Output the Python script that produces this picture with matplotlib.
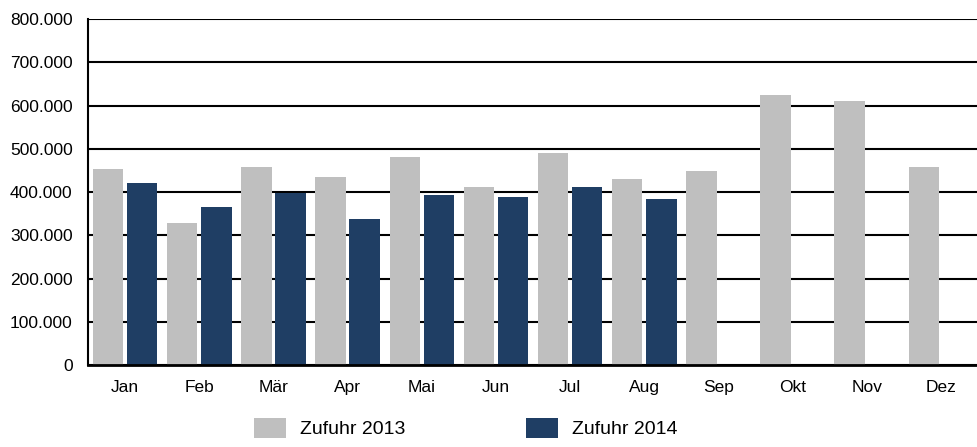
import matplotlib.pyplot as plt
import numpy as np
from matplotlib.patches import Patch
from matplotlib.ticker import FuncFormatter

plt.rcParams["font.family"] = ["Liberation Sans", "DejaVu Sans"]

# ── DATA ──────────────────────────────────────────────────────────────────────
MONTHS = ["Jan", "Feb", "Mär", "Apr", "Mai", "Jun", "Jul", "Aug", "Sep", "Okt", "Nov", "Dez"]
ZUFUHR_2013 = [453000, 328000, 458000, 435000, 481000, 412000, 490000, 430000, 449000, 624000, 610000, 458000]
ZUFUHR_2014 = [421000, 365000, 398000, 338000, 393000, 388000, 412000, 384000]
SERIES_LABELS = ["Zufuhr 2013", "Zufuhr 2014"]
Y_TICKS = [0, 100000, 200000, 300000, 400000, 500000, 600000, 700000, 800000]

GREY = "#BFBFBF"
NAVY = "#1F3E64"
# ─────────────────────────────────────────────────────────────────────────────


def thousands(v, _pos):
    return f"{int(v):,}".replace(",", ".")


fig = plt.figure(figsize=(9.78, 4.47), dpi=100)
ax = fig.add_axes([0.09, 0.1834, 0.91, 0.7741])

x = np.arange(len(MONTHS))
ax.bar(x - 0.23, ZUFUHR_2013, width=0.41, color=GREY, zorder=2)
x14 = np.arange(len(ZUFUHR_2014))
ax.bar(x14 + 0.23, ZUFUHR_2014, width=0.41, color=NAVY, zorder=2)

ax.set_xlim(-0.5, len(MONTHS) - 0.5)
ax.set_ylim(0, 800000)
ax.set_yticks(Y_TICKS)
ax.yaxis.set_major_formatter(FuncFormatter(thousands))
ax.set_xticks(x)
ax.set_xticklabels(MONTHS)
ax.tick_params(axis="y", length=0, pad=11, labelsize=12.5)
ax.tick_params(axis="x", length=0, pad=11, labelsize=12.5)

ax.grid(axis="y", color="black", linewidth=1.5, zorder=1)
ax.set_axisbelow(True)
for side in ("top", "right"):
    ax.spines[side].set_visible(False)
ax.spines["left"].set_linewidth(1.5)
ax.spines["bottom"].set_linewidth(2)
ax.spines["bottom"].set_zorder(3)

handles = [Patch(facecolor=GREY), Patch(facecolor=NAVY)]
fig.legend(
    handles,
    SERIES_LABELS,
    loc="center",
    bbox_to_anchor=(466 / 978, 0.0425),
    ncol=2,
    frameon=False,
    fontsize=14,
    handlelength=1.65,
    handleheight=1.23,
    handletextpad=0.72,
    columnspacing=6.2,
)

fig.savefig("out.png", dpi=100)
